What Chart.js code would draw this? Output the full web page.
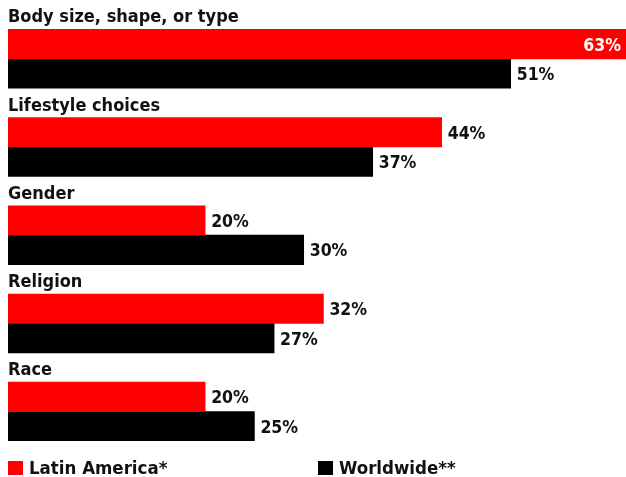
<!DOCTYPE html>
<html>
<head>
<meta charset="utf-8">
<script src="https://cdn.jsdelivr.net/npm/chart.js@4"></script>
<style>
html,body{margin:0;padding:0;background:#fff;}
#wrap{width:626px;height:477px;position:relative;}
</style>
</head>
<body>
<div id="wrap"><canvas id="c" width="626" height="477"></canvas></div>
<script>
const categories = ["Body size, shape, or type", "Lifestyle choices", "Gender", "Religion", "Race"];
const latinAmerica = [63, 44, 20, 32, 20];
const worldwide = [51, 37, 30, 27, 25];
const seriesNames = ["Latin America*", "Worldwide**"];
const seriesColors = ["#ff0000", "#000000"];
const spacer = [0, 0, 0, 0, 0];

const FONT = "'DejaVu Sans Condensed', 'DejaVu Sans', sans-serif";

const labelPlugin = {
  id: 'customLabels',
  afterDatasetsDraw(chart) {
    const ctx = chart.ctx;
    ctx.save();
    const m0 = chart.getDatasetMeta(0);
    const left = chart.scales.x.getPixelForValue(0);
    ctx.font = "bold 18px " + FONT;
    ctx.fillStyle = "#111";
    ctx.textBaseline = "middle";
    ctx.textAlign = "left";
    m0.data.forEach((el, i) => {
      ctx.fillText(categories[i], left, el.y + 3);
    });
    ctx.font = "bold 17.5px " + FONT;
    [1, 2].forEach(di => {
      const meta = chart.getDatasetMeta(di);
      const data = chart.data.datasets[di].data;
      meta.data.forEach((el, i) => {
        const txt = data[i] + "%";
        const w = ctx.measureText(txt).width;
        if (el.x + 6 + w > chart.width) {
          ctx.fillStyle = "#fff";
          ctx.textAlign = "right";
          ctx.fillText(txt, chart.width - 5, el.y + 2);
        } else {
          ctx.fillStyle = "#111";
          ctx.textAlign = "left";
          ctx.fillText(txt, el.x + 6, el.y + 2);
        }
      });
    });
    const ly = 468;
    const lx = [8, 318];
    ctx.font = "bold 18.5px " + FONT;
    ctx.textAlign = "left";
    [1, 2].forEach((di, k) => {
      const ds = chart.data.datasets[di];
      ctx.fillStyle = ds.backgroundColor;
      ctx.fillRect(lx[k], ly - 7, 15, 14);
      ctx.fillStyle = "#111";
      ctx.fillText(ds.label, lx[k] + 21, ly + 1);
    });
    ctx.restore();
  }
};

new Chart(document.getElementById('c'), {
  type: 'bar',
  data: {
    labels: categories,
    datasets: [
      { label: '', data: spacer, backgroundColor: 'rgba(0,0,0,0)' },
      { label: seriesNames[0], data: latinAmerica, backgroundColor: seriesColors[0], borderWidth: 0 },
      { label: seriesNames[1], data: worldwide, backgroundColor: seriesColors[1], borderWidth: 0 }
    ]
  },
  options: {
    indexAxis: 'y',
    responsive: false,
    animation: false,
    devicePixelRatio: 1,
    layout: { padding: { left: 8, right: 0, top: 0, bottom: 36 } },
    datasets: { bar: { categoryPercentage: 1, barPercentage: 1 } },
    scales: {
      x: { display: false, min: 0, max: 62.7 },
      y: { display: false }
    },
    plugins: {
      legend: { display: false },
      tooltip: { enabled: false }
    }
  },
  plugins: [labelPlugin]
});
</script>
</body>
</html>
